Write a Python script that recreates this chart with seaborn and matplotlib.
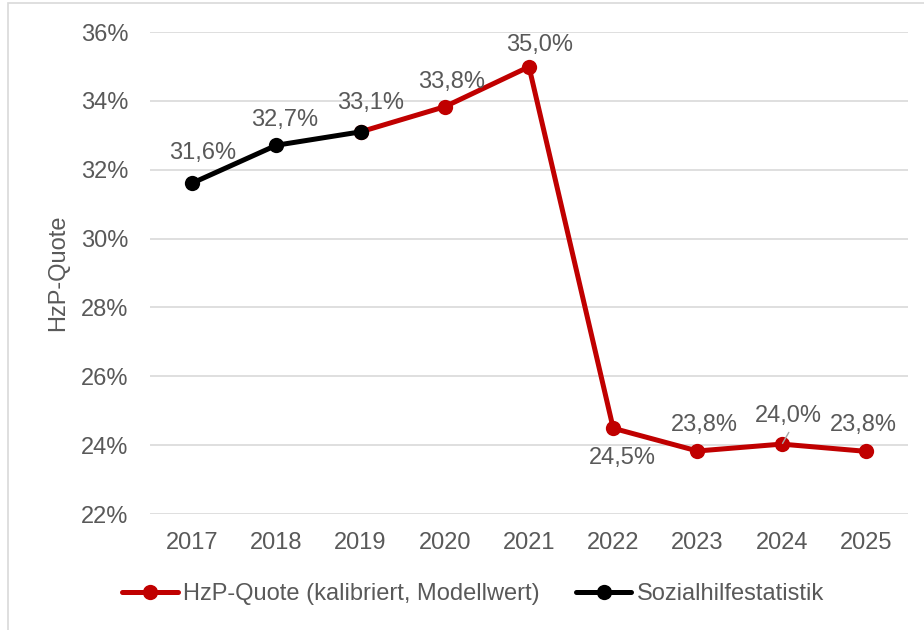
import matplotlib
matplotlib.use("Agg")
import matplotlib.pyplot as plt
import seaborn as sns
import pandas as pd
from matplotlib.lines import Line2D
from matplotlib.patches import Rectangle

years = [2017, 2018, 2019, 2020, 2021, 2022, 2023, 2024, 2025]
red_years = [2019, 2020, 2021, 2022, 2023, 2024, 2025]
red_values = [33.10, 33.83, 34.99, 24.49, 23.83, 24.03, 23.82]
red_labels = ["33,1%", "33,8%", "35,0%", "24,5%", "23,8%", "24,0%", "23,8%"]
black_years = [2017, 2018, 2019]
black_values = [31.61, 32.71, 33.10]
black_labels = ["31,6%", "32,7%", "33,1%"]
yticks = [22, 24, 26, 28, 30, 32, 34, 36]
red_name = "HzP-Quote (kalibriert, Modellwert)"
black_name = "Sozialhilfestatistik"

sns.set_theme(style="white")
plt.rcParams['font.family'] = ['Liberation Sans', 'DejaVu Sans']

RED = "#C00000"
TXT = "#595959"
FS = 17
LW = 3.6
MS = 11

df = pd.concat([
    pd.DataFrame({"Jahr": red_years, "Wert": red_values, "Serie": red_name}),
    pd.DataFrame({"Jahr": black_years, "Wert": black_values, "Serie": black_name}),
])

fig = plt.figure(figsize=(9.24, 6.3), dpi=100)
ax = fig.add_axes([150/924, 1-514/630, (908-150)/924, (514-32)/630])

sns.lineplot(data=df, x="Jahr", y="Wert", hue="Serie",
             palette={red_name: RED, black_name: "black"},
             marker="o", markersize=MS, linewidth=LW, markeredgewidth=0,
             legend=False, ax=ax, sort=False)

ax.set_xlim(years[0]-0.5, years[-1]+0.5)
ax.set_ylim(22, 36)
ax.set_yticks(yticks)
ax.set_yticklabels([f"{t}%" for t in yticks])
ax.set_xticks(years)
ax.set_xticklabels([str(y) for y in years])
ax.tick_params(axis='y', length=0, pad=15.5, labelsize=FS, labelcolor=TXT)
ax.tick_params(axis='x', length=0, pad=13, labelsize=FS, labelcolor=TXT)
ax.grid(axis='y', color="#D9D9D9", linewidth=1.2)
ax.set_axisbelow(True)
for s in ax.spines.values():
    s.set_visible(False)
ax.set_xlabel("")
ax.set_ylabel("HzP-Quote", fontsize=FS, color=TXT)
ax.yaxis.set_label_coords((69-150)/758, 0.5)
ax.patch.set_alpha(0)

# data labels (offsets in pixels, y upward)
black_off = [(11, 30), (8, 25), (10, 29)]
red_off = [None, (7, 25), (11, 22), (9, -30), (7, 26), (7, 28), (-3, 26)]
for x, v, l, o in zip(black_years, black_values, black_labels, black_off):
    ax.annotate(l, (x, v), xytext=o, textcoords="offset pixels",
                ha="center", va="center", fontsize=FS, color=TXT)
for x, v, l, o in zip(red_years, red_values, red_labels, red_off):
    if o is None:
        continue
    ax.annotate(l, (x, v), xytext=o, textcoords="offset pixels",
                ha="center", va="center", fontsize=FS, color=TXT)
# small leader line at 2024
ax.annotate("", (2024.01, 24.05), xytext=(2024.085, 24.37),
            arrowprops=dict(arrowstyle="-", color="#A6A6A6", lw=1.0,
                            shrinkA=0, shrinkB=0))

handles = [Line2D([], [], color=RED, lw=LW, marker="o", markersize=MS, markeredgewidth=0),
           Line2D([], [], color="black", lw=LW, marker="o", markersize=MS, markeredgewidth=0)]
fig.legend(handles, [red_name, black_name], loc="center", bbox_to_anchor=(473/924, 1-594/630),
           ncol=2, frameon=False, fontsize=FS, labelcolor=TXT,
           handlelength=2.35, handletextpad=0.22, columnspacing=1.55)

fig.patches.append(Rectangle((8/924, -0.05), 1.1, 1-3/630+0.05, transform=fig.transFigure,
                             fill=False, edgecolor="#D9D9D9", linewidth=1.2, zorder=-1))

fig.savefig("out.png", dpi=100)
